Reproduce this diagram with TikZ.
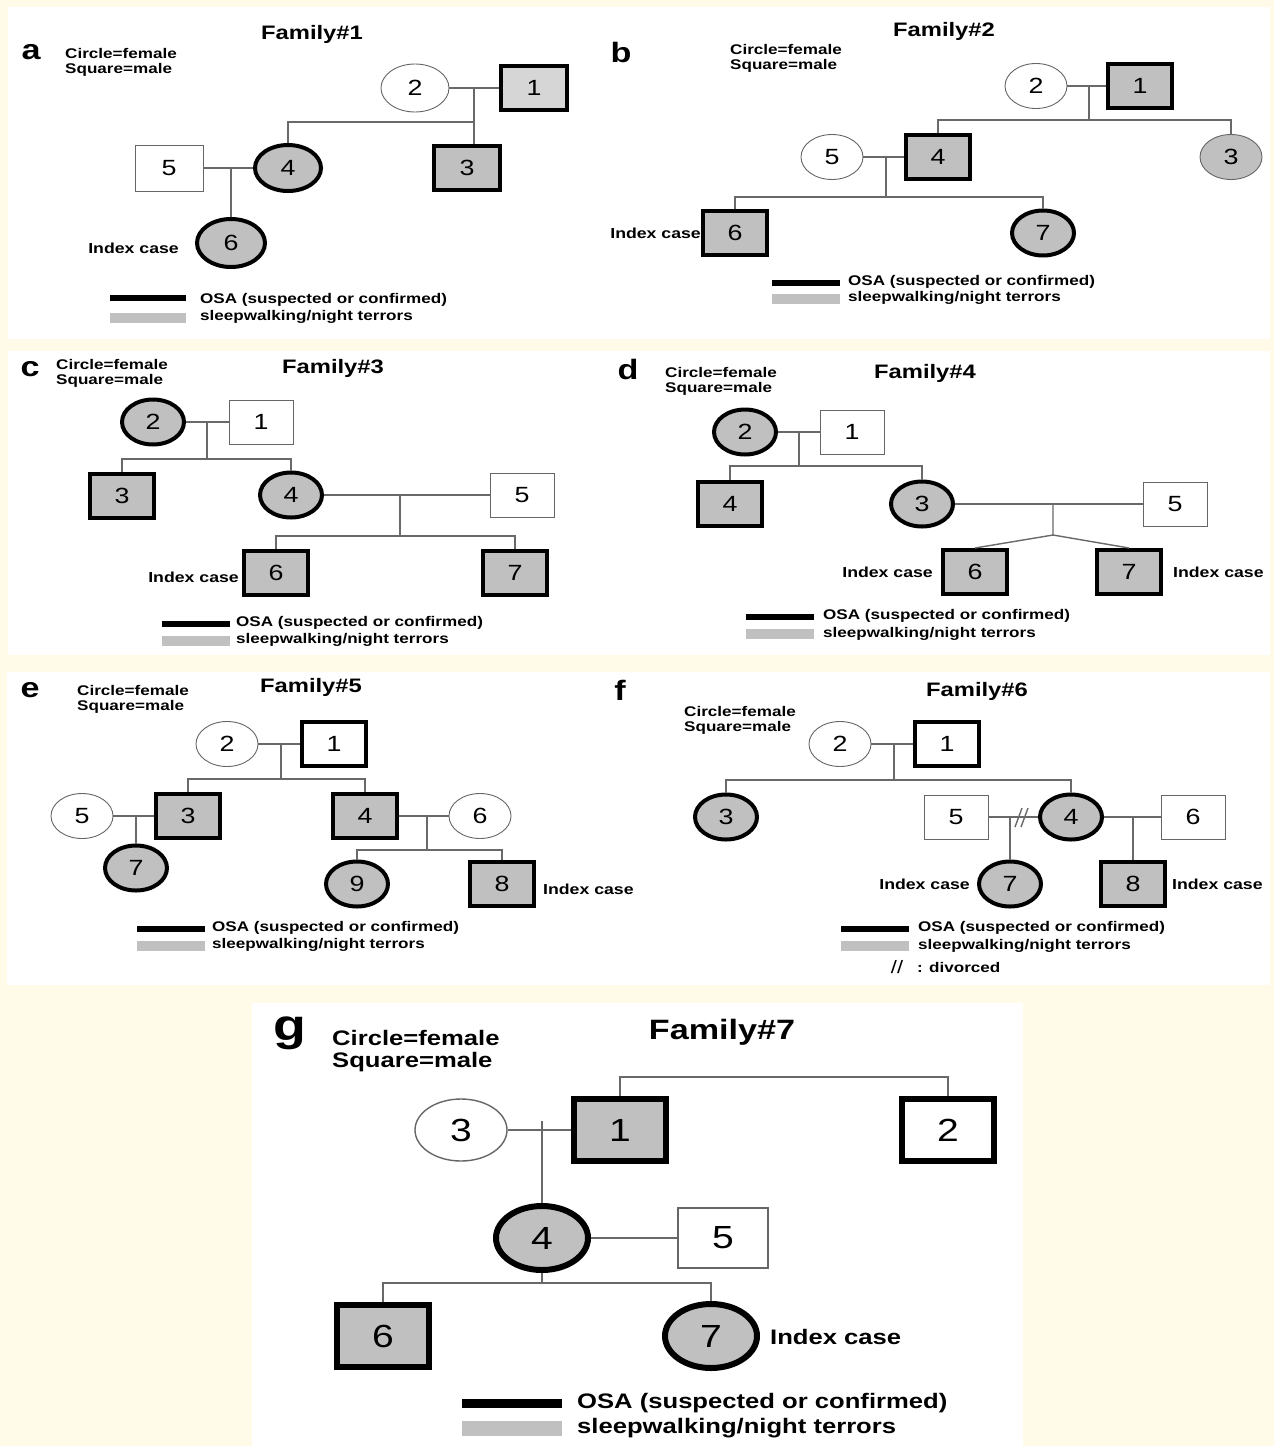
\documentclass[tikz,border=0pt]{standalone}
\usepackage{fontspec}
\setmainfont{Liberation Sans}[FakeStretch=1.22]
\usetikzlibrary{shapes.geometric,positioning}

\definecolor{cream}{RGB}{255,251,232}
\definecolor{sleepgray}{RGB}{192,192,192}
\definecolor{palegray}{RGB}{214,214,214}
\definecolor{linkgray}{RGB}{105,105,105}

\newcommand{\keyfont}{\fontsize{14}{15}\selectfont\bfseries}
\newcommand{\famfont}{\fontsize{19.5}{21}\selectfont\bfseries}
\newcommand{\panfont}{\fontsize{28}{30}\selectfont\bfseries}
\newcommand{\digfont}{\fontsize{22}{24}\selectfont}
\newcommand{\idxfont}{\fontsize{14.5}{16}\selectfont\bfseries}
\newcommand{\gkeyfont}{\fontsize{21}{22}\selectfont\bfseries}
\newcommand{\gfamfont}{\fontsize{28}{30}\selectfont\bfseries}
\newcommand{\gpanfont}{\fontsize{44}{46}\selectfont\bfseries}
\newcommand{\gdigfont}{\fontsize{32}{34}\selectfont}

\tikzset{
  person/.style={draw=black!60, line width=0.9pt, fill=white, inner sep=0pt, font=\digfont},
  male/.style={person, rectangle, minimum width=64pt, minimum height=44pt},
  female/.style={person, ellipse, minimum width=62pt, minimum height=45pt},
  sleep/.style={fill=sleepgray},
  osa/.style={draw=black, line width=4pt},
  link/.style={draw=linkgray, line width=1.4pt},
  key/.style={font=\keyfont, align=left, anchor=west, inner sep=0pt},
  family/.style={font=\famfont, inner sep=0pt},
  panel/.style={font=\panfont, inner sep=0pt},
  index/.style={font=\idxfont, inner sep=0pt},
  legtext/.style={font=\keyfont, anchor=west, inner sep=0pt},
  osabar/.style={fill=black, minimum width=68pt, minimum height=6pt, inner sep=0pt},
  sleepbar/.style={fill=sleepgray, minimum width=68pt, minimum height=10pt, inner sep=0pt},
  big/.style={minimum width=92pt, minimum height=62pt, font=\gdigfont, line width=1.4pt},
  bigosa/.style={draw=black, line width=6pt},
  glink/.style={draw=linkgray, line width=2pt},
}

\begin{document}
\begin{tikzpicture}[x=1pt, y=-1pt]
    \fill [cream] (0, 0) rectangle (1274, 1446);
    \fill [white] (8, 7) rectangle (1270, 339);
    \fill [white] (8, 351) rectangle (1270, 655);
    \fill [white] (7, 672) rectangle (1270, 985);
    \fill [white] (252, 1003) rectangle (1023, 1446);

    \path (  31,  52) node [panel] (alabel) {a};
    \path (  65,  62) node [key] (akey) {Circle=female\\Square=male};
    \path ( 312,  34) node [family] (atitle) {Family\#1};
    \path ( 415,  88) node [female, minimum width=68pt, minimum height=48pt] (a2) {2};
    \path ( 534,  88) node [male, fill=palegray, osa, minimum width=66pt, minimum height=44pt] (a1) {1};
    \coordinate (am12) at (474,  88);
    \coordinate (as12) at (474, 122);
    \path ( 288, 168) node [female, sleep, osa, minimum width=66pt, minimum height=46pt] (a4) {4};
    \path ( 467, 168) node [male, sleep, osa, minimum width=66pt, minimum height=44pt] (a3) {3};
    \path ( 169, 168) node [male, minimum width=68pt, minimum height=46pt] (a5) {5};
    \coordinate (am54) at (231, 168);
    \path ( 231, 243) node [female, sleep, osa, minimum width=68pt, minimum height=48pt] (a6) {6};
    \path ( 179, 248) node [index, anchor=east] (aindex) {Index case};
    \draw [link] (a2) -- (a1);
    \draw [link] (am12) -- (as12) -| (a4);
    \draw [link] (as12) -- (as12 |- a3.north);
    \draw [link] (a5) -- (a4);
    \draw [link] (am54) -- (a6);
    \path ( 148, 298) node [osabar, minimum width=76pt] (aosa) {};
    \path ( 148, 318) node [sleepbar, minimum width=76pt] (asleep) {};
    \path ( 200, 300) node [legtext] (aosatext) {OSA (suspected or confirmed)};
    \path ( 200, 317) node [legtext] (asleeptext) {sleepwalking/night terrors};

    \path ( 621,  52) node [panel] (blabel) {b};
    \path ( 730,  58) node [key] (bkey) {Circle=female\\Square=male};
    \path ( 944,  31) node [family] (btitle) {Family\#2};
    \path (1036,  86) node [female] (b2) {2};
    \path (1140,  86) node [male, sleep, osa] (b1) {1};
    \coordinate (bm12) at (1089,  86);
    \coordinate (bs12) at (1089, 120);
    \path ( 938, 157) node [male, sleep, osa] (b4) {4};
    \path (1231, 157) node [female, sleep] (b3) {3};
    \path ( 832, 157) node [female] (b5) {5};
    \coordinate (bm54) at (886, 157);
    \coordinate (bs54) at (886, 197);
    \path ( 735, 233) node [male, sleep, osa] (b6) {6};
    \path (1043, 233) node [female, sleep, osa] (b7) {7};
    \path ( 701, 233) node [index, anchor=east] (bindex) {Index case};
    \draw [link] (b2) -- (b1);
    \draw [link] (bm12) -- (bs12) -| (b4);
    \draw [link] (bs12) -| (b3);
    \draw [link] (b5) -- (b4);
    \draw [link] (bm54) -- (bs54) -| (b6);
    \draw [link] (bs54) -| (b7);
    \path ( 806, 283) node [osabar] (bosa) {};
    \path ( 806, 299) node [sleepbar] (bsleep) {};
    \path ( 848, 282) node [legtext] (bosatext) {OSA (suspected or confirmed)};
    \path ( 848, 298) node [legtext] (bsleeptext) {sleepwalking/night terrors};

    \path (  30, 369) node [panel] (clabel) {c};
    \path (  56, 373) node [key] (ckey) {Circle=female\\Square=male};
    \path ( 333, 368) node [family] (ctitle) {Family\#3};
    \path ( 153, 422) node [female, sleep, osa] (c2) {2};
    \path ( 261, 422) node [male] (c1) {1};
    \coordinate (cm12) at (207, 422);
    \coordinate (cs12) at (207, 459);
    \path ( 122, 496) node [male, sleep, osa] (c3) {3};
    \path ( 291, 495) node [female, sleep, osa] (c4) {4};
    \path ( 522, 495) node [male] (c5) {5};
    \coordinate (cm45) at (400, 495);
    \coordinate (cs45) at (400, 536);
    \path ( 276, 573) node [male, sleep, osa] (c6) {6};
    \path ( 515, 573) node [male, sleep, osa] (c7) {7};
    \path ( 239, 577) node [index, anchor=east] (cindex) {Index case};
    \draw [link] (c2) -- (c1);
    \draw [link] (cm12) -- (cs12) -| (c3);
    \draw [link] (cs12) -| (c4);
    \draw [link] (c4) -- (c5);
    \draw [link] (cm45) -- (cs45) -| (c6);
    \draw [link] (cs45) -| (c7);
    \path ( 196, 624) node [osabar] (cosa) {};
    \path ( 196, 641) node [sleepbar] (csleep) {};
    \path ( 236, 623) node [legtext] (cosatext) {OSA (suspected or confirmed)};
    \path ( 236, 640) node [legtext] (csleeptext) {sleepwalking/night terrors};

    \path ( 628, 369) node [panel] (dlabel) {d};
    \path ( 665, 381) node [key] (dkey) {Circle=female\\Square=male};
    \path ( 925, 373) node [family] (dtitle) {Family\#4};
    \path ( 745, 432) node [female, sleep, osa] (d2) {2};
    \path ( 852, 432) node [male] (d1) {1};
    \coordinate (dm12) at (799, 432);
    \coordinate (ds12) at (799, 466);
    \path ( 730, 504) node [male, sleep, osa] (d4) {4};
    \path ( 922, 504) node [female, sleep, osa] (d3) {3};
    \path (1175, 504) node [male] (d5) {5};
    \coordinate (dm35) at (1053, 504);
    \coordinate (ds35) at (1053, 535);
    \path ( 975, 572) node [male, sleep, osa] (d6) {6};
    \path (1129, 572) node [male, sleep, osa] (d7) {7};
    \path ( 933, 572) node [index, anchor=east] (dindex6) {Index case};
    \path (1173, 572) node [index, anchor=west] (dindex7) {Index case};
    \draw [link] (d2) -- (d1);
    \draw [link] (dm12) -- (ds12) -| (d4);
    \draw [link] (ds12) -| (d3);
    \draw [link] (d3) -- (d5);
    \draw [link] (dm35) -- (ds35) -- (d6.north);
    \draw [link] (ds35) -- (d7.north);
    \path ( 780, 617) node [osabar] (dosa) {};
    \path ( 780, 634) node [sleepbar] (dsleep) {};
    \path ( 823, 616) node [legtext] (dosatext) {OSA (suspected or confirmed)};
    \path ( 823, 634) node [legtext] (dsleeptext) {sleepwalking/night terrors};

    \path (  30, 690) node [panel] (elabel) {e};
    \path (  77, 699) node [key] (ekey) {Circle=female\\Square=male};
    \path ( 311, 687) node [family] (etitle) {Family\#5};
    \path ( 227, 744) node [female] (e2) {2};
    \path ( 334, 744) node [male, osa, fill=white] (e1) {1};
    \coordinate (em12) at (281, 744);
    \coordinate (es12) at (281, 779);
    \path ( 188, 816) node [male, sleep, osa] (e3) {3};
    \path ( 365, 816) node [male, sleep, osa] (e4) {4};
    \path (  82, 816) node [female] (e5) {5};
    \coordinate (em53) at (136, 816);
    \path ( 136, 868) node [female, sleep, osa] (e7) {7};
    \path ( 480, 816) node [female] (e6) {6};
    \coordinate (em46) at (427, 816);
    \coordinate (es46) at (427, 850);
    \path ( 357, 884) node [female, sleep, osa] (e9) {9};
    \path ( 502, 884) node [male, sleep, osa] (e8) {8};
    \path ( 543, 889) node [index, anchor=west] (eindex) {Index case};
    \draw [link] (e2) -- (e1);
    \draw [link] (em12) -- (es12) -| (e3);
    \draw [link] (es12) -| (e4);
    \draw [link] (e5) -- (e3);
    \draw [link] (em53) -- (e7);
    \draw [link] (e4) -- (e6);
    \draw [link] (em46) -- (es46) -| (e9);
    \draw [link] (es46) -| (e8);
    \path ( 171, 929) node [osabar] (eosa) {};
    \path ( 171, 946) node [sleepbar] (esleep) {};
    \path ( 212, 928) node [legtext] (eosatext) {OSA (suspected or confirmed)};
    \path ( 212, 945) node [legtext] (esleeptext) {sleepwalking/night terrors};

    \path ( 620, 690) node [panel] (flabel) {f};
    \path ( 684, 720) node [key] (fkey) {Circle=female\\Square=male};
    \path ( 977, 691) node [family] (ftitle) {Family\#6};
    \path ( 840, 744) node [female] (f2) {2};
    \path ( 947, 744) node [male, osa, fill=white] (f1) {1};
    \coordinate (fm12) at (894, 744);
    \coordinate (fs12) at (894, 780);
    \path ( 726, 817) node [female, sleep, osa] (f3) {3};
    \path (1071, 817) node [female, sleep, osa] (f4) {4};
    \path ( 956, 817) node [male] (f5) {5};
    \coordinate (fm54) at (1010, 817);
    \path (1010, 884) node [female, sleep, osa] (f7) {7};
    \path (1193, 817) node [male] (f6) {6};
    \coordinate (fm46) at (1133, 817);
    \path (1133, 884) node [male, sleep, osa] (f8) {8};
    \path ( 970, 884) node [index, anchor=east] (findex7) {Index case};
    \path (1172, 884) node [index, anchor=west] (findex8) {Index case};
    \draw [link] (f2) -- (f1);
    \draw [link] (fm12) -- (fs12) -| (f3);
    \draw [link] (fs12) -| (f4);
    \draw [link] (f5) -- (f4);
    \draw [link] (fm54) -- (f7);
    \draw [link] (1015, 827) -- (1022, 808);
    \draw [link] (1021, 827) -- (1028, 808);
    \draw [link] (f4) -- (f6);
    \draw [link] (fm46) -- (f8);
    \path ( 875, 929) node [osabar] (fosa) {};
    \path ( 875, 946) node [sleepbar] (fsleep) {};
    \path ( 918, 928) node [legtext] (fosatext) {OSA (suspected or confirmed)};
    \path ( 918, 946) node [legtext] (fsleeptext) {sleepwalking/night terrors};
    \path ( 897, 967) node [font=\fontsize{18}{19}\selectfont, inner sep=0pt] (fdivmark) {//};
    \path ( 917, 967) node [legtext] (fdivtext) {: divorced};

    \path ( 290, 1033) node [font=\gpanfont, inner sep=0pt] (glabel) {g};
    \path ( 332, 1051) node [key, font=\gkeyfont] (gkey) {Circle=female\\Square=male};
    \path ( 722, 1032) node [font=\gfamfont, inner sep=0pt] (gtitle) {Family\#7};
    \path ( 620, 1130) node [male, big, sleep, bigosa] (g1) {1};
    \path ( 948, 1130) node [male, big, bigosa, fill=white] (g2) {2};
    \coordinate (gtop) at (784, 1077);
    \path ( 461, 1130) node [female, big] (g3) {3};
    \coordinate (gm31) at (542, 1121);
    \path ( 542, 1238) node [female, big, sleep, bigosa, minimum height=64pt] (g4) {4};
    \path ( 723, 1238) node [male, big, minimum width=90pt, minimum height=60pt] (g5) {5};
    \coordinate (gs45) at (542, 1283);
    \path ( 383, 1336) node [male, big, sleep, bigosa] (g6) {6};
    \path ( 711, 1336) node [female, big, sleep, bigosa, minimum height=64pt] (g7) {7};
    \path ( 770, 1337) node [index, anchor=west, font=\gkeyfont] (gindex) {Index case};
    \draw [glink] (g1) |- (gtop) -| (g2);
    \draw [glink] (g3) -- (g1);
    \draw [glink] (gm31) -- (g4);
    \draw [glink] (g4) -- (g5);
    \draw [glink] (g4) -- (gs45) -| (g6);
    \draw [glink] (gs45) -| (g7);
    \path ( 512, 1403) node [osabar, minimum width=100pt, minimum height=9pt] (gosa) {};
    \path ( 512, 1428) node [sleepbar, minimum width=100pt, minimum height=15pt] (gsleep) {};
    \path ( 577, 1403) node [legtext, font=\gkeyfont] (gosatext) {OSA (suspected or confirmed)};
    \path ( 577, 1428) node [legtext, font=\gkeyfont] (gsleeptext) {sleepwalking/night terrors};
\end{tikzpicture}
\end{document}
